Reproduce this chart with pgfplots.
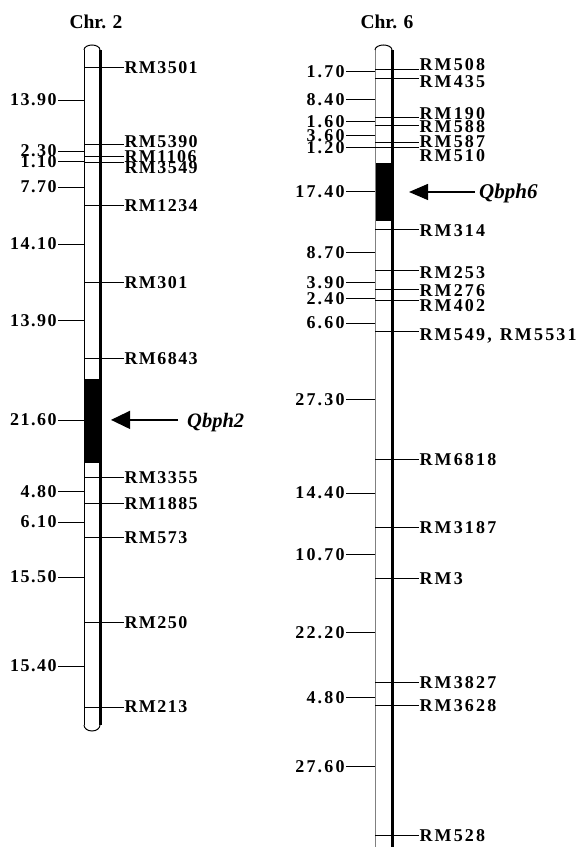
\documentclass[border=0pt]{standalone}
\usepackage{pgfplots}
\pgfplotsset{compat=1.18}
\usepackage{pgfplotstable}
\usetikzlibrary{arrows.meta}
\usepackage{fontspec}
\setmainfont{Liberation Serif}
\newfontfamily\labfonta[LetterSpace=8]{Liberation Serif}
\newfontfamily\labfontb[LetterSpace=12]{Liberation Serif}

% Chr. 2 markers: position (cM), name, label shift (pt)
\pgfplotstableread{
cM name dy
0 RM3501 0
13.9 RM5390 2.5
16.2 RM1106 0.5
17.3 RM3549 -5
25.0 RM1234 0
39.1 RM301 0
53.0 RM6843 0
74.6 RM3355 0
79.4 RM1885 0
85.5 RM573 0
101.0 RM250 0
116.4 RM213 0
}\chrtwo
% Chr. 2 intervals: label position (cM), interval length (cM)
\pgfplotstableread{
pos val
5.83 13.90
15.12 2.30
17.12 1.10
21.68 7.70
32.06 14.10
46.08 13.90
64.12 21.60
77.23 4.80
82.70 6.10
92.72 15.50
108.93 15.40
}\chrtwoint
% Chr. 6 markers
\pgfplotstableread{
cM name dy
0 RM508 5
1.7 RM435 -4
10.1 RM190 3.5
11.7 RM588 -2
15.3 RM587 0
16.5 RM510 -8
33.9 RM314 -1
42.6 RM253 -2
46.5 RM276 -2
48.9 RM402 -5.5
55.5 {RM549,\kern8pt RM5531} -4.5
82.8 RM6818 0
97.2 RM3187 0
107.9 RM3 0
130.1 RM3827 0
134.9 RM3628 0
162.5 RM528 0
}\chrsix
\pgfplotstableread{
pos val
0.42 1.70
6.37 8.40
11.04 1.60
14.01 3.60
16.56 1.20
25.90 17.40
38.85 8.70
45.22 3.90
48.62 2.40
53.72 6.60
70.06 27.30
89.81 14.40
102.97 10.70
119.53 22.20
133.33 4.80
147.98 27.60
}\chrsixint

\pgfplotsset{
  chrom/.style={scale only axis, width=583pt, height=847pt, hide axis,
    xmin=0, xmax=583, y dir=reverse, clip=false, at={(0,0)}, anchor=south west},
}
\tikzset{laba/.style={font=\labfonta\bfseries\fontsize{18}{20}\selectfont, text=black, inner sep=0pt},
         labb/.style={font=\labfontb\bfseries\fontsize{18}{20}\selectfont, text=black, inner sep=0pt}}

\begin{document}
\begin{tikzpicture}
% ---------------- Chr. 2 ----------------
\begin{axis}[chrom, name=A, ymin=-12.386, ymax=141.894]
  \addplot[fill=black, draw=black] coordinates {(84,56.65) (100,56.65) (100,71.77) (84,71.77)} -- cycle;
  \addplot[black, line width=1pt] coordinates {(84,-3.28) (84,119.67)};
  \addplot[black, line width=3pt] coordinates {(100,-3.28) (100,119.67)};
  \draw[line width=1pt] (axis cs:84,-3.28) arc[start angle=180, end angle=0, x radius=8pt, y radius=5pt];
  \draw[line width=1pt] (axis cs:84,119.67) arc[start angle=180, end angle=360, x radius=8pt, y radius=6pt];
  % markers
  \addplot[black, line width=1pt, -, quiver={u=40, v=0},
    point meta=explicit symbolic, nodes near coords,
    visualization depends on={\thisrow{dy} \as \dy},
    nodes near coords style={laba, anchor=west, xshift=40pt, yshift=\dy pt}]
    table[x expr=84, y=cM, meta=name] {\chrtwo};
  % intervals
  \addplot[black, line width=1pt, -, quiver={u=-26, v=0},
    point meta=explicit, nodes near coords,
    nodes near coords={\pgfmathprintnumber[fixed, fixed zerofill, precision=2, assume math mode=true]{\pgfplotspointmeta}},
    nodes near coords style={laba, anchor=east, xshift=-27pt}]
    table[x expr=84, y=pos, meta=val] {\chrtwoint};
  % QTL arrow
  \addplot[black, line width=1.3pt, -{Triangle[length=19pt, width=18pt]}] coordinates {(178,64.1) (111,64.1)};
  \node[anchor=base west, inner sep=0pt, font=\bfseries\itshape\fontsize{20.5}{22}\selectfont] at (axis cs:187,65.4) {Qbph2};
  \node[font=\bfseries\fontsize{19.5}{22}\selectfont, inner sep=0pt] at (axis cs:96,-8.38) {Chr. 2};
\end{axis}
% ---------------- Chr. 6 ----------------
\begin{axis}[chrom, ymin=-14.862, ymax=164.968]
  \addplot[fill=black, draw=black] coordinates {(375,19.75) (393,19.75) (393,31.85) (375,31.85)} -- cycle;
  \addplot[gray, line width=1pt] coordinates {(375,-4.25) (375,164.968)};
  \addplot[black, line width=3pt] coordinates {(392,-4.25) (392,164.968)};
  \draw[line width=1pt] (axis cs:375,-4.25) arc[start angle=180, end angle=0, x radius=8.5pt, y radius=5pt];
  \addplot[black, line width=1pt, -, quiver={u=44, v=0},
    point meta=explicit symbolic, nodes near coords,
    visualization depends on={\thisrow{dy} \as \dy},
    nodes near coords style={labb, anchor=west, xshift=44pt, yshift=\dy pt}]
    table[x expr=375, y=cM, meta=name] {\chrsix};
  \addplot[black, line width=1pt, -, quiver={u=-29, v=0},
    point meta=explicit, nodes near coords,
    nodes near coords={\pgfmathprintnumber[fixed, fixed zerofill, precision=2, assume math mode=true]{\pgfplotspointmeta}},
    nodes near coords style={labb, anchor=east, xshift=-30pt}]
    table[x expr=375, y=pos, meta=val] {\chrsixint};
  \addplot[black, line width=1.3pt, -{Triangle[length=19pt, width=16pt]}] coordinates {(475,25.9) (409,25.9)};
  \node[anchor=base west, inner sep=0pt, font=\bfseries\itshape\fontsize{21}{23}\selectfont] at (axis cs:479,27.2) {Qbph6};
  \node[font=\bfseries\fontsize{19.5}{22}\selectfont, inner sep=0pt] at (axis cs:387,-10.19) {Chr. 6};
\end{axis}
\pgfresetboundingbox
\useasboundingbox (A.south west) rectangle (A.north east);
\end{tikzpicture}
\end{document}
